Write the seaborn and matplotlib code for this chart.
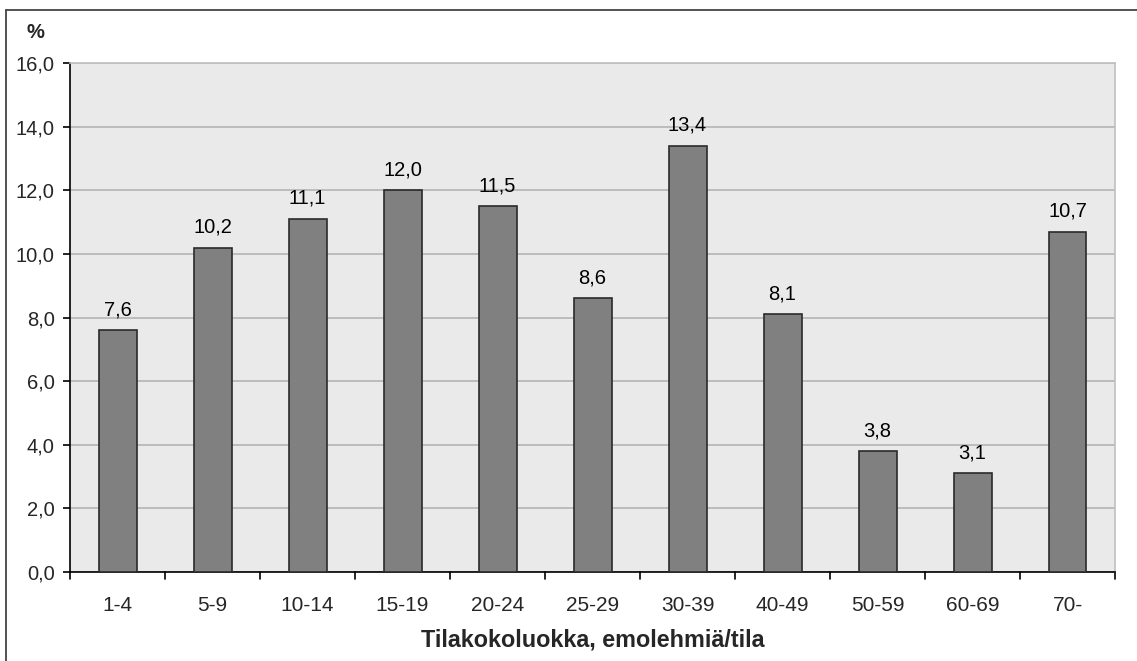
import matplotlib
matplotlib.use("Agg")
import matplotlib.pyplot as plt
from matplotlib.lines import Line2D
import seaborn as sns
import pandas as pd

# Herd size classes and share of farms (%)
classes = ["1-4", "5-9", "10-14", "15-19", "20-24", "25-29",
           "30-39", "40-49", "50-59", "60-69", "70-"]
shares = [7.6, 10.2, 11.1, 12.0, 11.5, 8.6, 13.4, 8.1, 3.8, 3.1, 10.7]
y_ticks = [0, 2, 4, 6, 8, 10, 12, 14, 16]

df = pd.DataFrame({"luokka": classes, "osuus": shares})

sns.set_theme(style="white")
plt.rcParams["font.family"] = ["Liberation Sans", "DejaVu Sans"]

FS = 14.5

fig = plt.figure(figsize=(11.37, 6.61), dpi=100)
ax = fig.add_axes([70 / 1137, 1 - 572 / 661, (1115 - 70) / 1137, (572 - 63) / 661])
ax.set_facecolor("#eaeaea")

sns.barplot(data=df, x="luokka", y="osuus", ax=ax, color="#808080",
            saturation=1, width=0.4, edgecolor="#2a2a2a", linewidth=1.2,
            zorder=3)

ax.set_xlim(-0.5, len(classes) - 0.5)
ax.set_ylim(0, 16)
ax.set_yticks(y_ticks)
ax.set_yticklabels([f"{v:.1f}".replace(".", ",") for v in y_ticks], fontsize=FS)

# Gridlines
ax.yaxis.grid(True, color="#b4b4b4", linewidth=1.2, zorder=1)
ax.set_axisbelow(True)

# Category labels, with ticks drawn between categories
ax.set_xticks(range(len(classes)))
ax.set_xticklabels(classes)
ax.tick_params(axis="x", length=0, labelsize=15, pad=17)
for b in [i - 0.5 for i in range(len(classes) + 1)]:
    ax.plot([b, b], [0, -0.014], transform=ax.get_xaxis_transform(),
            color="black", linewidth=1.2, clip_on=False)
ax.tick_params(axis="y", direction="out", length=5, width=1.2, color="black",
               left=True, pad=6)

for side in ["top", "right"]:
    ax.spines[side].set_color("#c0c0c0")
    ax.spines[side].set_linewidth(1.2)
for side in ["left", "bottom"]:
    ax.spines[side].set_color("black")
    ax.spines[side].set_linewidth(1.2)

# Value labels
for i, v in enumerate(shares):
    ax.text(i, v + 0.47, f"{v:.1f}".replace(".", ","), ha="center",
            va="baseline", fontsize=FS, color="black")

ax.set_xlabel("Tilakokoluokka, emolehmiä/tila", fontsize=16.8,
              fontweight="bold", labelpad=10)
ax.set_ylabel("")
fig.text(35 / 1137, 1 - 33 / 661, "%", fontsize=FS, fontweight="bold",
         ha="center", va="center")

# Chart frame lines
fig.add_artist(Line2D([6 / 1137, 1], [1 - 9.5 / 661, 1 - 9.5 / 661],
                      transform=fig.transFigure, color="#444444", linewidth=1.3))
fig.add_artist(Line2D([6 / 1137, 6 / 1137], [0, 1 - 9.5 / 661],
                      transform=fig.transFigure, color="#444444", linewidth=1.3))

fig.savefig("out.png", dpi=100, facecolor="white")
